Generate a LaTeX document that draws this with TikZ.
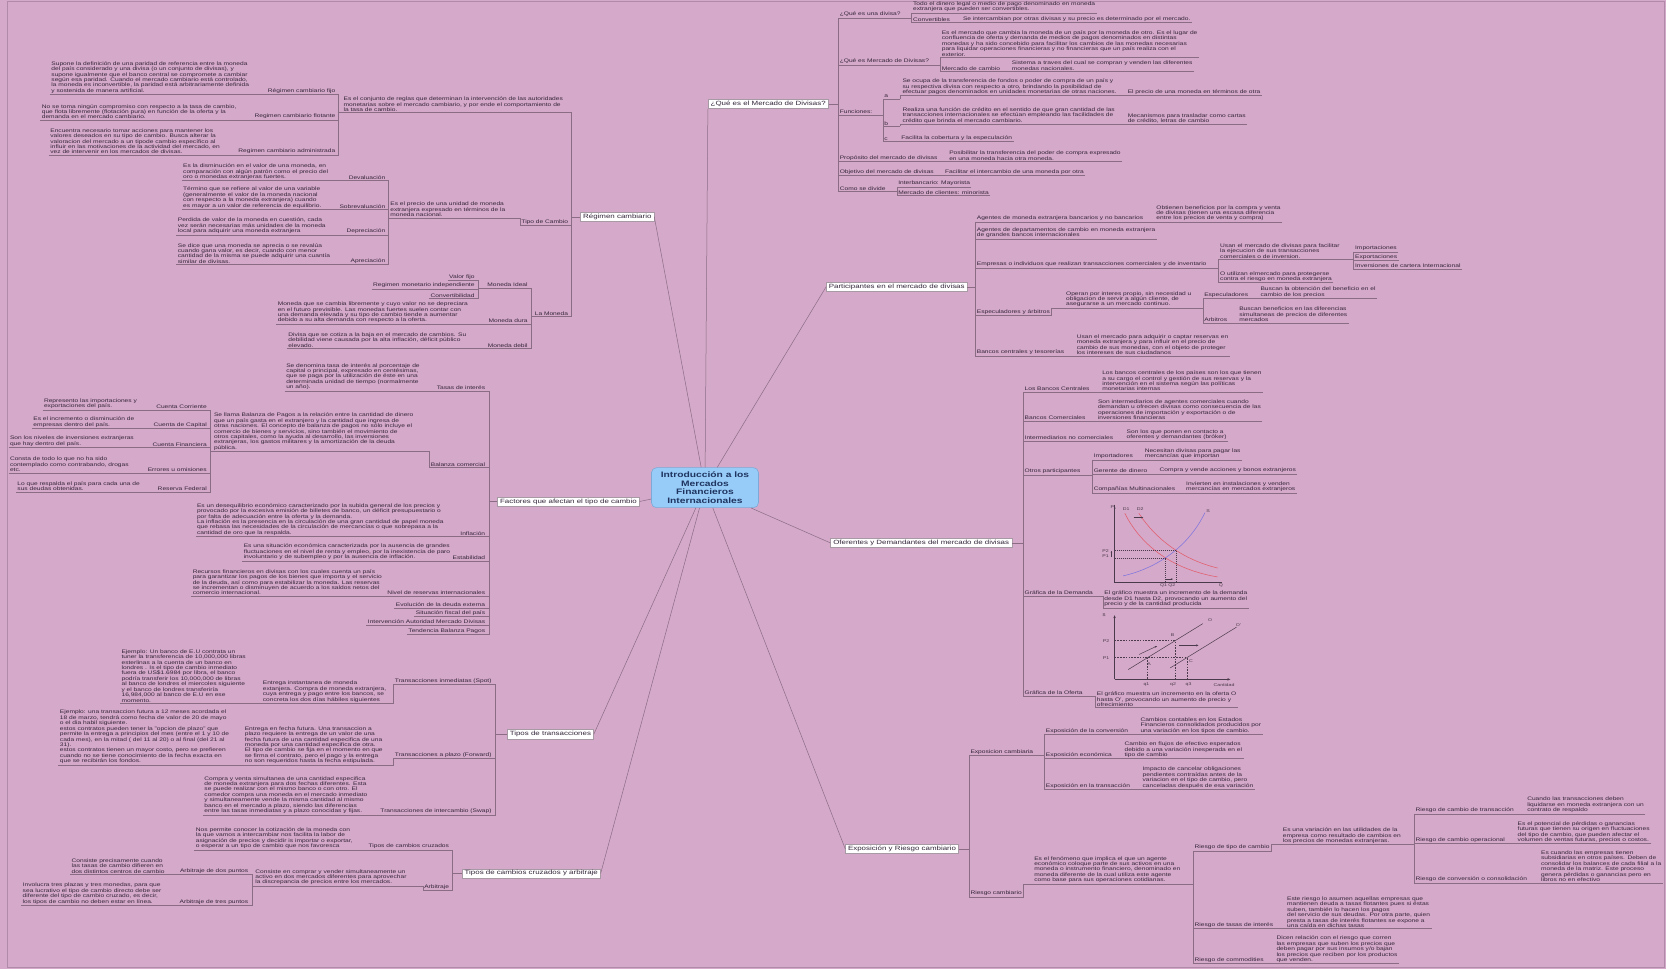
\documentclass[tikz,border=0pt]{standalone}
\usepackage{fontspec}
\setmainfont{Liberation Sans}[FakeStretch=1.3]
\usetikzlibrary{arrows.meta,intersections,calc}

\definecolor{paper}{HTML}{D5A9C9}
\definecolor{framec}{HTML}{B08AA8}
\definecolor{inkc}{HTML}{33253A}
\definecolor{wire}{HTML}{8A6C85}
\definecolor{boxline}{HTML}{A89AA4}
\definecolor{ctrfill}{HTML}{97CBF8}
\definecolor{ctrline}{HTML}{7EA9D6}
\definecolor{ctrink}{HTML}{1F3560}
\definecolor{demand}{HTML}{E4505C}
\definecolor{supply}{HTML}{6F6CE4}
\definecolor{plotink}{HTML}{4A3A4C}

\newcommand\fnote{\fontsize{5.1}{5.45}\selectfont}
\newcommand\fmain{\fontsize{6.1}{7}\selectfont}
\newcommand\fctr{\fontsize{7.9}{8.6}\selectfont\bfseries}
\newcommand\fgraph{\fontsize{4}{4.5}\selectfont}

\begin{document}
\begin{tikzpicture}[x=1.0625pt, y=-1.0625pt,
  note/.style={font=\fnote, text=inkc, inner xsep=1.3pt, inner ysep=0.9pt, align=left},
  noteL/.style={note, anchor=south east},
  noteR/.style={note, anchor=south west},
  main/.style={draw=boxline, line width=0.4pt, fill=white, font=\fmain, text=inkc, inner xsep=2.6pt, inner ysep=1.7pt},
  ctr/.style={draw=ctrline, line width=0.6pt, fill=ctrfill, rounded corners=5pt, font=\fctr, text=ctrink, align=center, minimum width=107pt, minimum height=40pt, inner sep=2pt},
  ln/.style={draw=wire, line width=0.45pt},
  spoke/.style={draw=wire, line width=0.5pt},
  gtxt/.style={font=\fgraph, text=plotink, inner sep=0.4pt},
  dotl/.style={draw=plotink, line width=0.35pt, dash pattern=on 1pt off 1pt},
  axis/.style={draw=plotink, line width=0.45pt},
]
\fill[paper] (0,0) rectangle (1568,912);
\draw[framec, line width=0.6pt] (6.5,1.2) rectangle (1566,910);
\useasboundingbox (0,0) rectangle (1568,912);

% ================= central topic =================
\node[ctr] (ctr) at (663.5,459) {Introducción a los\\Mercados\\Financieros\\Internacionales};

% ================= main topics =================
\node[main] (rc)  at (581,204) {Régimen cambiario};
\node[main] (fac) at (535,472) {Factores que afectan el tipo de cambio};
\node[main] (ttr) at (518,691) {Tipos de transacciones};
\node[main] (tcz) at (500,822) {Tipos de cambios cruzados y arbitraje};
\node[main] (qm)  at (723,98)  {¿Qué es el Mercado de Divisas?};
\node[main] (par) at (844,270) {Participantes en el mercado de divisas};
\node[main] (ofe) at (867,511) {Oferentes y Demandantes del mercado de divisas};
\node[main] (exp) at (849,799) {Exposición y Riesgo cambiario};

\draw[spoke] (ctr) -- (rc.east);
\draw[spoke] (ctr) -- (fac.east);
\draw[spoke] (ctr) -- (ttr.east);
\draw[spoke] (ctr) -- (tcz.east);
\draw[spoke] (ctr) -- (qm.south west);
\draw[spoke] (ctr) -- (par.west);
\draw[spoke] (ctr) -- (ofe.west);
\draw[spoke] (ctr) -- (exp.west);

% ================= Régimen cambiario =================
\coordinate (rcT) at (538,204);
\draw[ln] (rc.west) -- (rcT);

\node[noteR] (rcdef) at (322,106) {Es el conjunto de reglas que determinan la intervención de las autoridades\\monetarias sobre el mercado cambiario, y por ende el comportamiento de\\la tasa de cambio.};
\coordinate (rcdefT) at (318,106);
\draw[ln] (rcdefT) -| (rcT);

\node[noteL] (fijo) at (317,89) {Régimen cambiario fijo};
\node[noteR] (fijod) at (47,89) {Supone la definición de una paridad de referencia entre la moneda\\del país considerado y una divisa (o un conjunto de divisas), y\\supone igualmente que el banco central se compromete a cambiar\\según esa paridad.  Cuando el mercado cambiario está controlado,\\la moneda es inconvertible, la paridad está arbitrariamente definida\\y sostenida de manera artificial.};
\draw[ln] (fijod.south west) -| (rcdefT);

\node[noteL] (flot) at (317,113) {Regimen cambiario flotante};
\node[noteR] (flotd) at (38,113) {No se toma ningún compromiso con respecto a la tasa de cambio,\\que flota libremente (flotación pura) en función de la oferta y la\\demanda en el mercado cambiario.};
\draw[ln] (flotd.south west) -| (rcdefT);

\node[noteL] (adm) at (317,146) {Regimen cambiario administrada};
\node[noteR] (admd) at (46,146) {Encuentra necesario tomar acciones para mantener los\\valores deseados en su tipo de cambio. Busca alterar la\\valoracion del mercado a un tipode cambio específico al\\influir en las motivaciones de la actividad del mercado, en\\vez de intervenir en los mercados de divisas.};
\draw[ln] (admd.south west) -| (rcdefT);

\node[noteL] (tc) at (536,212) {Tipo de Cambio};
\node[noteR] (tcd) at (366,205) {Es el precio de una unidad de moneda\\extranjera expresado en términos de la\\moneda nacional.};
\coordinate (tcdT) at (365,205);
\draw[ln] (tcdT) -| (tc.south west) -| (rcT);

\node[noteL] (dev) at (364,170) {Devaluación};
\node[noteR] (devd) at (171,170) {Es la disminución en el valor de una moneda, en\\comparación con algún patrón como el precio del\\oro o monedas extranjeras fuertes.};
\draw[ln] (devd.south west) -| (tcdT);

\node[noteL] (sob) at (364,197) {Sobrevaluación};
\node[noteR] (sobd) at (171,197) {Término que se refiere al valor de una variable\\(generalmente el valor de la moneda nacional\\con respecto a la moneda extranjera) cuando\\es mayor a un valor de referencia de equilibrio.};
\draw[ln] (sobd.south west) -| (tcdT);

\node[noteL] (dep) at (364,221) {Depreciación};
\node[noteR] (depd) at (166,221) {Perdida de valor de la moneda en cuestión, cada\\vez serán necesarias más unidades de la moneda\\local para adquirir una moneda extranjera};
\draw[ln] (depd.south west) -| (tcdT);

\node[noteL] (apr) at (364,249) {Apreciación};
\node[noteR] (aprd) at (166,249) {Se dice que una moneda se aprecia o se revalúa\\cuando gana valor, es decir, cuando con menor\\cantidad de la misma se puede adquirir una cuantía\\similar de divisas.};
\draw[ln] (aprd.south west) -| (tcdT);

\node[noteL] (mon) at (536,298) {La Moneda};
\coordinate (monT) at (500,298);
\draw[ln] (monT) -| (rcT);

\node[noteL] (ideal) at (498,271) {Moneda Ideal};
\coordinate (idT) at (450,271);
\draw[ln] (idT) -| (monT);
\node[noteL] (vfijo) at (448,264) {Valor fijo};
\node[noteL] (rmi) at (448,272) {Regimen monetario independiente};
\node[noteL] (conv) at (448,281) {Convertibilidad};
\draw[ln] (vfijo.south west) -| (idT);
\draw[ln] (rmi.south west) -| (idT);
\draw[ln] (conv.south west) -| (idT);

\node[noteL] (dura) at (498,305) {Moneda dura};
\node[noteR] (durad) at (260,305) {Moneda que se cambia libremente y cuyo valor no se depreciara\\en el futuro previsible. Las monedas fuertes suelen contar con\\una demanda elevada  y su tipo de cambio tiende a aumentar\\debido  a su alta demanda con respecto a la oferta.};
\draw[ln] (durad.south west) -| (monT);

\node[noteL] (debil) at (498,328) {Moneda debil};
\node[noteR] (debild) at (270,328) {Divisa que se cotiza a la baja  en el mercado de cambios. Su\\debilidad viene causada por la alta inflación, déficit público\\elevado.};
\draw[ln] (debild.south west) -| (monT);

% ================= Factores =================
\coordinate (facT) at (460,472);
\draw[ln] (fac.west) -- (facT);

\node[noteL] (tasas) at (458,368) {Tasas de interés};
\node[noteR] (tasasd) at (268,368) {Se denomina tasa de interés al porcentaje de\\capital o principal, expresado en centésimas,\\que se paga por la utilización de éste en una\\determinada unidad de tiempo (normalmente\\un año).};
\draw[ln] (tasasd.south west) -| (facT);

\node[noteL] (bal) at (458,440) {Balanza comercial};
\node[noteR] (bald) at (200,425) {Se llama Balanza de Pagos a la relación entre la cantidad de dinero\\que un país gasta en el extranjero y la cantidad que ingresa de\\otras naciones. El concepto de balanza de pagos no sólo incluye el\\comercio de bienes y servicios, sino también el movimiento de\\otros capitales, como la ayuda al desarrollo, las inversiones\\extranjeras, los gastos militares y la amortización de la deuda\\pública.};
\coordinate (balT) at (198,425);
\draw[ln] (balT) -| (bal.south west) -| (facT);

\node[noteL] (cc) at (196,386) {Cuenta Corriente};
\node[noteR] (ccd) at (40,386) {Represento las importaciones y\\exportaciones del país.};
\draw[ln] (ccd.south west) -| (balT);
\node[noteL] (ck) at (196,403) {Cuenta de Capital};
\node[noteR] (ckd) at (30,403) {Es el incremento o disminución de\\empresas dentro del país.};
\draw[ln] (ckd.south west) -| (balT);
\node[noteL] (cf) at (196,421) {Cuenta Financiera};
\node[noteR] (cfd) at (8,421) {Son los niveles de inversiones extranjeras\\que hay dentro del país.};
\draw[ln] (cfd.south west) -| (balT);
\node[noteL] (eo) at (196,445) {Errores u omisiones};
\node[noteR] (eod) at (8,445) {Consta de todo lo que no ha sido\\contemplado como contrabando, drogas\\etc.};
\draw[ln] (eod.south west) -| (balT);
\node[noteL] (rf) at (196,463) {Reserva Federal};
\node[noteR] (rfd) at (15,463) {Lo que respalda el país para cada una de\\sus deudas obtenidas.};
\draw[ln] (rfd.south west) -| (balT);

\node[noteL] (inf) at (458,505) {Inflación};
\node[noteR] (infd) at (184,505) {Es un desequilibrio económico caracterizado por la subida general de los precios y\\provocado por la excesiva emisión de billetes de banco, un déficit presupuestario o\\por falta de adecuación entre la oferta y la demanda.\\La inflación es la presencia en la circulación de una gran cantidad de papel moneda\\que rebasa las necesidades de la circulación de mercancías o que sobrepasa a la\\cantidad de oro que la respalda.};
\draw[ln] (infd.south west) -| (facT);

\node[noteL] (est) at (458,528) {Estabilidad};
\node[noteR] (estd) at (228,528) {Es una situación económica caracterizada por la ausencia de grandes\\fluctuaciones en el nivel de renta y empleo, por la inexistencia de paro\\involuntario y de subempleo y por la ausencia de inflación.};
\draw[ln] (estd.south west) -| (facT);

\node[noteL] (nri) at (458,561) {Nivel de reservas internacionales};
\node[noteR] (nrid) at (180,561) {Recursos financieros en divisas con los cuales cuenta un país\\para garantizar los pagos de los bienes que importa y el servicio\\de la deuda, así como para estabilizar la moneda. Las reservas\\se incrementan o disminuyen de acuerdo a los saldos netos del\\comercio internacional.};
\draw[ln] (nrid.south west) -| (facT);

\node[noteL] (evo) at (458,572) {Evolución de la deuda externa};
\node[noteL] (sfp) at (458,580) {Situación fiscal del país};
\node[noteL] (iam) at (458,588) {Intervención Autoridad Mercado Divisas};
\node[noteL] (tbp) at (458,597) {Tendencia Balanza Pagos};
\draw[ln] (evo.south west) -| (facT);
\draw[ln] (sfp.south west) -| (facT);
\draw[ln] (iam.south west) -| (facT);
\draw[ln] (tbp.south west) -| (facT);

% ================= Tipos de transacciones =================
\coordinate (ttrT) at (466,691);
\draw[ln] (ttr.west) -- (ttrT);

\node[noteL] (spot) at (464,644) {Transacciones inmediatas (Spot)};
\node[noteR] (spotd) at (246,662) {Entrega instantanea de moneda\\extanjera. Compra de moneda extranjera,\\cuya entrega y pago entre los bancos, se\\concreta los dos días hábiles siguientes};
\node[noteR] (spote) at (113,662) {Ejemplo: Un banco de E.U contrata un\\tuner la transferencia de 10,000,000 libras\\esterlinas a la cuenta de un banco en\\londres . Is el tipo de cambio inmediato\\fuera de US\$1.6984 por libra, el banco\\podría transferir los 10,000,000 de libras\\al banco de londres el miercoles siguiente\\y el banco de londres transferiría\\16,984,000 al banco de E.U en ese\\momento.};
\draw[ln] (spote.south west) -| (spot.south west) -| (ttrT);

\node[noteL] (fwd) at (464,714) {Transacciones a plazo (Forward)};
\node[noteR] (fwdd) at (229,720) {Entrega en fecha futura. Una transaccion a\\plazo requiere la entrega de un valor de una\\fecha futura de una cantidad especifica de una\\moneda por una cantidad especifica de otra.\\El tipo de cambio se fija en el momento en que\\se firma el contrato, pero el pago y la entrega\\no son requeridos hasta la fecha estipulada.};
\node[noteR] (fwde) at (55,720) {Ejemplo: una transaccion futura a 12 meses acordada el\\18 de marzo, tendrá como fecha de valor de 20 de mayo\\o el dia habil siguiente.\\estos contratos pueden tener la "opcion de plazo" que\\permite la entrega a principios del mes (entre el 1 y 10 de\\cada mes), en la mitad ( del 11 al 20) o al final (del 21 al\\31).\\estos contratos tienen un mayor costo, pero se prefieren\\cuando no se tiene conocimiento de la fecha exacta en\\que se recibirán los fondos.};
\draw[ln] (fwde.south west) -| (fwd.south west) -| (ttrT);

\node[noteL] (swp) at (464,767) {Transacciones de intercambio (Swap)};
\node[noteR] (swpd) at (191,767) {Compra y venta simultanea de una cantidad especifica\\de moneda extranjera para dos fechas diferentes. Esta\\se puede realizar con el mismo banco o con otro. El\\comedor compra una moneda en el mercado inmediato\\y simultaneamente vende la misma cantidad al mismo\\banco en el mercado a plazo, siendo las diferencias\\entre las tasas inmediatas y a plazo conocidas y fijas.};
\draw[ln] (swpd.south west) -| (ttrT);

% ================= Tipos de cambios cruzados y arbitraje =================
\coordinate (tczT) at (426,822);
\draw[ln] (tcz.west) -- (tczT);

\node[noteL] (cruz) at (424,800) {Tipos de cambios cruzados};
\node[noteR] (cruzd) at (183,800) {Nos permite conocer la cotización de la moneda con\\la que vamos a intercambiar nos facilita la labor de\\asignación de precios y decidir is importar o exportar,\\o esperar a un tipo de cambio que nos favoresca};
\draw[ln] (cruzd.south west) -| (tczT);

\node[noteL] (arb) at (424,838) {Arbitraje};
\node[noteR] (arbd) at (239,834) {Consiste en comprar y vender simultaneamente un\\activo en dos mercados diferentes para aprovechar\\la discrepancia de precios entre los mercados.};
\coordinate (arbT) at (237,834);
\draw[ln] (arbT) -| (arb.south west) -| (tczT);

\node[noteL] (a2p) at (235,823) {Arbitraje de dos puntos};
\node[noteR] (a2pd) at (66,823) {Consiste precisamente cuando\\las tasas de cambio difieren en\\dos distintos centros de cambio};
\draw[ln] (a2pd.south west) -| (arbT);
\node[noteL] (a3p) at (235,852) {Arbitraje de tres puntos};
\node[noteR] (a3pd) at (20,852) {Involucra tres plazas y tres monedas, para que\\sea lucrativo el tipo de cambio directo debe ser\\diferente del tipo de cambio cruzado, es decir,\\los tipos de cambio no deben estar en línea.};
\draw[ln] (a3pd.south west) -| (arbT);

% ================= ¿Qué es el Mercado de Divisas? =================
\coordinate (qmT) at (789,98);
\draw[ln] (qm.east) -- (qmT);

\node[noteR] (qdiv) at (789,17) {¿Qué es una divisa?};
\coordinate (qdivT) at (858,17);
\draw[ln] (qdivT) -| (qmT);
\node[noteR] (todo) at (858,12) {Todo el dinero legal o medio de pago denominado en moneda\\extranjera que pueden ser convertibles.};
\draw[ln] (todo.south east) -| (qdivT);
\node[noteR] (convb) at (858,21) {Convertibles};
\node[noteR] (convd) at (905,21) {Se intercambian por otras divisas y su precio es determinado por el mercado.};
\draw[ln] (convd.south east) -| (qdivT);

\node[noteR] (qmd) at (789,61) {¿Qué es Mercado de Divisas?};
\coordinate (qmdT) at (885,61);
\draw[ln] (qmdT) -| (qmT);
\node[noteR] (qmdd) at (885,54) {Es el mercado que cambia la moneda de un país por la moneda de otro. Es el lugar de\\confluencia de oferta y demanda de medios de pagos denominados en distintas\\monedas y ha sido concebido para facilitar los cambios de las monedas necesarias\\para liquidar operaciones financieras y no financieras que un país realiza con el\\exterior.};
\draw[ln] (qmdd.south east) -| (qmdT);
\node[noteR] (mcam) at (885,67) {Mercado de cambio};
\node[noteR] (mcamd) at (951,67) {Sistema a traves del cual se compran y venden las diferentes\\monedas nacionales.};
\draw[ln] (mcamd.south east) -| (qmdT);

\node[noteR] (fun) at (789,108) {Funciones:};
\coordinate (funT) at (831,108);
\draw[ln] (funT) -| (qmT);
\node[noteR] (fa) at (831,93) {a};
\coordinate (faT) at (847,93);
\draw[ln] (faT) -| (funT);
\node[noteR] (fad) at (848,90) {Se ocupa de la transferencia de fondos o poder de compra de un país y\\su respectiva divisa con respecto a otro, brindando la posibilidad de\\efectuar pagos denominados en unidades monetarias de otras naciones.};
\node[noteR] (fae) at (1060,90) {El precio de una moneda en términos de otra};
\draw[ln] (fae.south east) -| (faT);
\node[noteR] (fb) at (831,119) {b};
\coordinate (fbT) at (847,119);
\draw[ln] (fbT) -| (funT);
\node[noteR] (fbd) at (848,117) {Realiza una función de crédito en el sentido de que gran cantidad de las\\transacciones internacionales se efectúan empleando las facilidades de\\crédito que brinda el mercado cambiario.};
\node[noteR] (fbe) at (1060,117) {Mecanismos para trasladar como cartas\\de crédito, letras de cambio};
\draw[ln] (fbe.south east) -| (fbT);
\node[noteR] (fc) at (831,133) {c};
\node[noteR] (fcd) at (847,133) {Facilita la cobertura y la especulación};
\draw[ln] (fcd.south east) -| (funT);

\node[noteR] (prop) at (789,152) {Propósito del mercado de divisas};
\node[noteR] (propd) at (892,152) {Posibilitar la transferencia del poder de compra expresado\\en una moneda hacia otra moneda.};
\draw[ln] (propd.south east) -| (qmT);
\node[noteR] (obj) at (789,165) {Objetivo del mercado de divisas};
\node[noteR] (objd) at (888,165) {Facilitar el intercambio de una moneda por otra};
\draw[ln] (objd.south east) -| (qmT);
\node[noteR] (div) at (789,180) {Como se divide};
\coordinate (divT) at (844,180);
\draw[ln] (divT) -| (qmT);
\node[noteR] (inter) at (844,176) {Interbancario: Mayorista};
\node[noteR] (minor) at (844,184) {Mercado de clientes: minorista};
\draw[ln] (inter.south east) -| (divT);
\draw[ln] (minor.south east) -| (divT);

% ================= Participantes =================
\coordinate (parT) at (918,270);
\draw[ln] (par.east) -- (parT);

\node[noteR] (p1) at (918,209) {Agentes de moneda extranjera bancarios y no bancarios};
\node[noteR] (p1d) at (1087,209) {Obtienen beneficios por la compra y venta\\de divisas (tienen una escasa diferencia\\entre los precios de venta y compra)};
\draw[ln] (p1d.south east) -| (parT);
\node[noteR] (p2) at (918,225) {Agentes de departamentos de cambio en moneda extranjera\\de grandes bancos internacionales};
\draw[ln] (p2.south east) -| (parT);

\node[noteR] (p3) at (918,252) {Empresas o individuos que realizan transacciones comerciales y de inventario};
\coordinate (p3T) at (1147,252);
\draw[ln] (p3T) -| (parT);
\node[noteR] (p3a) at (1147,244) {Usan el mercado de divisas para facilitar\\la ejecucion de sus transacciones\\comerciales o de inversion.};
\coordinate (p3aT) at (1274,244);
\draw[ln] (p3aT) -| (p3T);
\node[noteR] (imp) at (1274,237) {Importaciones};
\node[noteR] (exo) at (1274,245) {Exportaciones};
\node[noteR] (inv) at (1274,253) {Inversiones de cartera Internacional};
\draw[ln] (imp.south east) -| (p3aT);
\draw[ln] (exo.south east) -| (p3aT);
\draw[ln] (inv.south east) -| (p3aT);
\node[noteR] (p3b) at (1147,266) {O utilizan elmercado para protegerse\\contra el riesgo en moneda extranjera};
\draw[ln] (p3b.south east) -| (p3T);

\node[noteR] (p4) at (918,297) {Especuladores y árbitros};
\node[noteR] (p4d) at (1002,290) {Operan por interes propio, sin necesidad u\\obligacion de servir a algún cliente,  de\\asegurarse a un mercado continuo.};
\coordinate (p4dT) at (1132,290);
\draw[ln] (p4dT) -| (p4.south east) -| (parT);
\node[noteR] (esp) at (1132,281) {Especuladores};
\node[noteR] (espd) at (1185,281) {Buscan la obtención del beneficio en el\\cambio de los precios};
\draw[ln] (espd.south east) -| (p4dT);
\node[noteR] (arbi) at (1132,304) {Arbitros};
\node[noteR] (arbid) at (1165,304) {Buscan beneficios en las diferencias\\simultaneas de precios de diferentes\\mercados};
\draw[ln] (arbid.south east) -| (p4dT);

\node[noteR] (p5) at (918,335) {Bancos centrales y tesorerías};
\node[noteR] (p5d) at (1012,335) {Usan el mercado para adquirir o captar reservas en\\moneda extranjera y para influir en el precio de\\cambio de sus monedas, con el objeto de proteger\\los intereses de sus ciudadanos};
\draw[ln] (p5d.south east) -| (parT);

% ================= Oferentes y Demandantes =================
\coordinate (ofeT) at (963,511);
\draw[ln] (ofe.east) -- (ofeT);

\node[noteR] (o1) at (963,369) {Los Bancos Centrales};
\node[noteR] (o1d) at (1036,369) {Los bancos centrales de los países son los que tienen\\a su  cargo el control  y gestión de sus reservas y la\\intervención en el sistema según las políticas\\monetarias internas};
\draw[ln] (o1d.south east) -| (ofeT);
\node[noteR] (o2) at (963,396) {Bancos Comerciales};
\node[noteR] (o2d) at (1032,396) {Son intermediarios de agentes comerciales cuando\\demandan u ofrecen divisas como consecuencia de las\\operaciones de importación  y exportación o de\\inversiones financieras};
\draw[ln] (o2d.south east) -| (ofeT);
\node[noteR] (o3) at (963,415) {Intermediarios no comerciales};
\node[noteR] (o3d) at (1059,415) {Son los que ponen en contacto a\\oferentes y demandantes (bróker)};
\draw[ln] (o3d.south east) -| (ofeT);

\node[noteR] (o4) at (963,447) {Otros participantes};
\coordinate (o4T) at (1028,447);
\draw[ln] (o4T) -| (ofeT);
\node[noteR] (o4a) at (1028,433) {Importadores};
\node[noteR] (o4ad) at (1076,433) {Necesitan divisas para pagar las\\mercancías que importan};
\draw[ln] (o4ad.south east) -| (o4T);
\node[noteR] (o4b) at (1028,446) {Gerente de dinero};
\node[noteR] (o4bd) at (1090,446) {Compra y vende acciones y bonos extranjeros};
\draw[ln] (o4bd.south east) -| (o4T);
\node[noteR] (o4c) at (1028,464) {Compañías Multinacionales};
\node[noteR] (o4cd) at (1115,464) {Invierten en instalaciones y venden\\mercancías en mercados extranjeros};
\draw[ln] (o4cd.south east) -| (o4T);

% demand graph
\draw[axis] (1049,475) -- (1049,548) -- (1150,548);
\draw[demand, line width=0.55pt, opacity=0.85, name path=dA] (1058.6,483) .. controls (1074,514) and (1104,536) .. (1146,543);
\draw[demand, line width=0.55pt, opacity=0.85, name path=dB] (1071.8,483) .. controls (1088,508) and (1114,527) .. (1146,534.6);
\draw[supply, line width=0.55pt, opacity=0.85, name path=sA] (1057,542) .. controls (1092,534) and (1120,512) .. (1134,482.5);
\path[name intersections={of=dA and sA, by=eqA}];
\path[name intersections={of=dB and sA, by=eqB}];
\draw[dotl] (1049,0 |- eqA) -- (eqA) -- (eqA |- 0,548);
\draw[dotl] (1049,0 |- eqB) -- (eqB) -- (eqB |- 0,548);
\draw[plotink, line width=0.35pt, -{Stealth[length=2pt,width=1.6pt]}] (1067,487) -- (1076,487);
\draw[plotink, line width=0.35pt, -{Stealth[length=2pt,width=1.6pt]}] (1097,545) -- (1104,545);
\draw[plotink, line width=0.35pt, -{Stealth[length=1.6pt,width=1.4pt]}] (1046,524) -- (1046,518.5);
\node[gtxt] (gP) at (1048,477.5) {P\textsubscript{\$}};
\node[gtxt] (gD1) at (1060,479.5) {D1};
\node[gtxt] (gD2) at (1073,479.5) {D2};
\node[gtxt] (gS) at (1137,481) {S};
\node[gtxt, anchor=east] (gP2) at (1044,518.5) {P2};
\node[gtxt, anchor=east] (gP1) at (1044,523.5) {P1};
\node[gtxt] (gQ12) at (1099,551.5) {Q1 Q2};
\node[gtxt] (gQ) at (1149,551.5) {Q};

\node[noteR] (o5) at (963,561) {Gráfica de la Demanda};
\node[noteR] (o5d) at (1038,572) {El gráfico muestra un incremento de la demanda\\desde D1 hasta D2, provocando un aumento del\\precio y de la cantidad producida};
\draw[ln] (o5d.south east) -- (o5d.south west) |- (o5.south west) -| (ofeT);

% supply graph
\coordinate (sptA) at (1080,619);
\coordinate (sptB) at (1106,603);
\coordinate (sptC) at (1117,619);
\draw[axis, -{Stealth[length=3pt,width=2.4pt]}] (1049,639.4) -- (1049,579);
\draw[axis, -{Stealth[length=3pt,width=2.4pt]}] (1049,639.4) -- (1158,639.4);
\draw[plotink, line width=0.5pt] ($(sptA)+(-18.2,11.2)$) -- ($(sptB)+(26,-16)$);
\draw[plotink, line width=0.5pt] ($(sptC)+(-15.6,9.6)$) -- ($(sptC)+(46.8,-28.8)$);
\draw[plotink, line width=0.4pt, dash pattern=on 1.6pt off 1.2pt] (1049,0 |- sptB) -- (sptB) -- (sptB |- 0,639.4);
\draw[plotink, line width=0.4pt, dash pattern=on 1.6pt off 1.2pt] (1049,0 |- sptC) -- (sptC) -- (sptC |- 0,639.4);
\draw[plotink, line width=0.4pt, dash pattern=on 1.6pt off 1.2pt] (sptA) -- (sptA |- 0,639.4);
\draw[plotink, line width=0.45pt, -{Stealth[length=2.4pt,width=2pt]}] (1072,616) -- (1089,608);
\draw[plotink, line width=0.45pt, -{Stealth[length=2.4pt,width=2pt]}] (1110,607.4) -- (1128,607.4);
\node[gtxt] (sD) at (1039,579) {\$};
\node[gtxt] (sP2) at (1041,603) {P2};
\node[gtxt] (sP1) at (1041,619) {P1};
\node[gtxt] (sO) at (1139,584) {O};
\node[gtxt] (sO2) at (1165.5,588) {O'};
\node[gtxt] (sB) at (1103.7,597.6) {B};
\node[gtxt] (sA) at (1081.5,625) {A};
\node[gtxt] (sC) at (1121,621.8) {C};
\node[gtxt] (sq1) at (1079,644) {q1};
\node[gtxt] (sq2) at (1104,644) {q2};
\node[gtxt] (sq3) at (1118.7,644) {q3};
\node[gtxt] (scant) at (1152,644.7) {Cantidad};

\node[noteR] (o6) at (963,655) {Gráfica de la Oferta};
\node[noteR] (o6d) at (1031,666) {El gráfico muestra un incremento en la oferta O\\hasta O', provocando un aumento de precio y\\ofrecimiento};
\draw[ln] (o6d.south east) -- (o6d.south west) |- (o6.south west) -| (ofeT);

% ================= Exposición y Riesgo cambiario =================
\coordinate (expT) at (912,799);
\draw[ln] (exp.east) -- (expT);

\node[noteR] (e1) at (912,711) {Exposicion cambiaria};
\coordinate (e1T) at (983,711);
\draw[ln] (e1T) -| (expT);
\node[noteR] (e1a) at (983,691) {Exposición de la conversión};
\node[noteR] (e1ad) at (1072,691) {Cambios contables en los Estados\\Financieros consolidados producidos por\\una variación en los tipos de cambio.};
\draw[ln] (e1ad.south east) -| (e1T);
\node[noteR] (e1b) at (983,714) {Exposición económica};
\node[noteR] (e1bd) at (1057,714) {Cambio en flujos de efectivo esperados\\debido a una variación inesperada en el\\tipo de cambio};
\draw[ln] (e1bd.south east) -| (e1T);
\node[noteR] (e1c) at (983,743) {Exposición en la transacción};
\node[noteR] (e1cd) at (1074,743) {Impacto de cancelar obligaciones\\pendientes contraídas antes de la\\variacion en el tipo de cambio, pero\\canceladas después de esa variación};
\draw[ln] (e1cd.south east) -| (e1T);

\node[noteR] (e2) at (912,844) {Riesgo cambiario};
\node[noteR] (e2d) at (972,832) {Es el fenómeno que implica el que un agente\\económico coloque parte de sus activos en una\\moneda o instrumento financiero, denominado en\\moneda diferente de la cual utiliza este agente\\como base para sus operaciones cotidianas.};
\coordinate (e2dT) at (1123,832);
\draw[ln] (e2dT) -| (e2.south east) -| (expT);

\node[noteR] (r1) at (1123,801) {Riesgo de tipo de cambio};
\node[noteR] (r1d) at (1206,795) {Es una variación en las utilidades de la\\empresa como resultado de cambios en\\los precios de monedas extranjeras.};
\coordinate (r1dT) at (1331,795);
\draw[ln] (r1dT) -| (r1.south east) -| (e2dT);
\node[noteR] (r1a) at (1331,766) {Riesgo de cambio de transacción};
\node[noteR] (r1ad) at (1436,766) {Cuando las transacciones deben\\liquidarse en moneda extranjera con un\\contrato de respaldo};
\draw[ln] (r1ad.south east) -| (r1dT);
\node[noteR] (r1b) at (1331,794) {Riesgo de cambio operacional};
\node[noteR] (r1bd) at (1427,794) {Es el potencial de pérdidas o ganancias\\futuras que tienen su origen en fluctuaciones\\del tipo de cambio, que pueden afectar el\\volumen de ventas futuras, precios o costos.};
\draw[ln] (r1bd.south east) -| (r1dT);
\node[noteR] (r1c) at (1331,831) {Riesgo de conversión o consolidación};
\node[noteR] (r1cd) at (1449,831) {Es cuando las empresas tienen\\subsidiarias en otros países. Deben de\\consolidar los balances de cada filial a la\\moneda de la matriz. Este proceso\\genera pérdidas o ganancias  pero en\\libros no en efectivo};
\draw[ln] (r1cd.south east) -| (r1dT);

\node[noteR] (r2) at (1123,874) {Riesgo de tasas de interés};
\node[noteR] (r2d) at (1210,874) {Este riesgo lo asumen aquellas empresas que\\mantienen deuda a tasas flotantes pues si éstas\\suben, también lo hacen los pagos\\del servicio de sus deudas. Por otra parte, quien\\presta a tasas de interés flotantes se expone a\\una caída en dichas tasas};
\draw[ln] (r2d.south east) -| (e2dT);
\node[noteR] (r3) at (1123,907) {Riesgo de commodities};
\node[noteR] (r3d) at (1200,907) {Dicen relación con el riesgo que corren\\las empresas que suben los precios que\\deben pagar por sus insumos y/o bajan\\los precios que reciben por los productos\\que venden.};
\draw[ln] (r3d.south east) -| (e2dT);
\end{tikzpicture}
\end{document}
